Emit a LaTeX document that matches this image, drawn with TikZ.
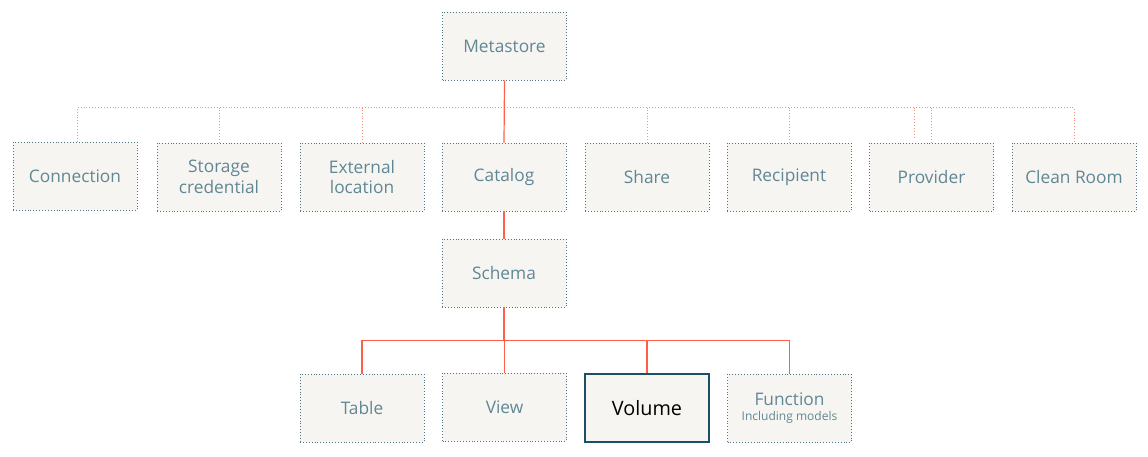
\documentclass[tikz,border=0pt]{standalone}
\usepackage{fontspec}
\setmainfont{Open Sans}
\definecolor{boxfill}{HTML}{F7F5F2}
\definecolor{boxline}{HTML}{4F7584}
\definecolor{txt}{HTML}{5F8794}
\definecolor{redl}{HTML}{FF5F46}
\definecolor{redd}{HTML}{F5917F}
\definecolor{volline}{HTML}{1B4F63}
\begin{document}
\begin{tikzpicture}[x=1pt,y=-1pt,
  obj/.style={draw=boxline,fill=boxfill,line width=0.9pt,dash pattern=on 0.9pt off 2pt,
    minimum width=124pt,minimum height=68pt,inner sep=0pt,align=center,
    text=txt,font=\fontsize{17.3}{20.5}\selectfont},
  objsolid/.style={obj,solid,draw=volline,line width=1.1pt,text=black,font=\fontsize{19.8}{22}\selectfont},
  solidcon/.style={draw=redl,line width=1.2pt},
  dotcon/.style={draw=redd,line width=0.9pt,dash pattern=on 0.9pt off 2pt}]
\useasboundingbox (0,0) rectangle (1148,456);
% top
\node[obj] (meta) at (504.5,46) {Metastore};
% row 2
\node[obj] (conn) at (75,176) {Connection};
\node[obj] (stor) at (219,177) {Storage\\credential};
\node[obj] (ext) at (362,177) {External\\location};
\node[obj] (cat) at (504,177) {Catalog};
\node[obj] (share) at (647,177) {Share};
\node[obj] (recip) at (789,177) {Recipient};
\node[obj] (prov) at (931.5,177) {Provider};
\node[obj] (clean) at (1074,177) {Clean Room};
% schema
\node[obj] (schema) at (504,273) {Schema};
% row 4
\node[obj] (table) at (362,408) {Table};
\node[obj] (view) at (504.5,407) {View};
\node[objsolid] (vol) at (647,408) {Volume};
\node[obj] (func) at (789.5,408) {Function\\[-5pt]{\fontsize{12}{13}\selectfont Including models}};
% coordinates
\coordinate (hl) at (77,107.5);
\coordinate (hr) at (1074,107.5);
\coordinate (p1) at (914,107.5);
\coordinate (p1b) at (914,139);
\coordinate (bl) at (362,340.5);
\coordinate (br) at (789.5,340.5);
% dotted connectors
\draw[dotcon] (conn.north -| hl) -- (hl) -- (hr) -- (clean.north -| hr);
\draw[dotcon] (stor.north) -- (stor.north |- hl);
\draw[dotcon] (ext.north) -- (ext.north |- hl);
\draw[dotcon] (share.north) -- (share.north |- hl);
\draw[dotcon] (recip.north) -- (recip.north |- hl);
\draw[dotcon] (prov.north) -- (prov.north |- hl);
\draw[dotcon] (p1) -- (p1b);
% solid connectors
\draw[solidcon] (meta.south) -- (cat.north);
\draw[solidcon] (cat.south) -- (schema.north);
\draw[solidcon] (schema.south) -- (schema.south |- bl);
\draw[solidcon] (table.north) -- (bl) -- (br) -- (func.north);
\draw[solidcon] (view.north) -- (view.north |- bl);
\draw[solidcon] (vol.north) -- (vol.north |- bl);
\end{tikzpicture}
\end{document}
